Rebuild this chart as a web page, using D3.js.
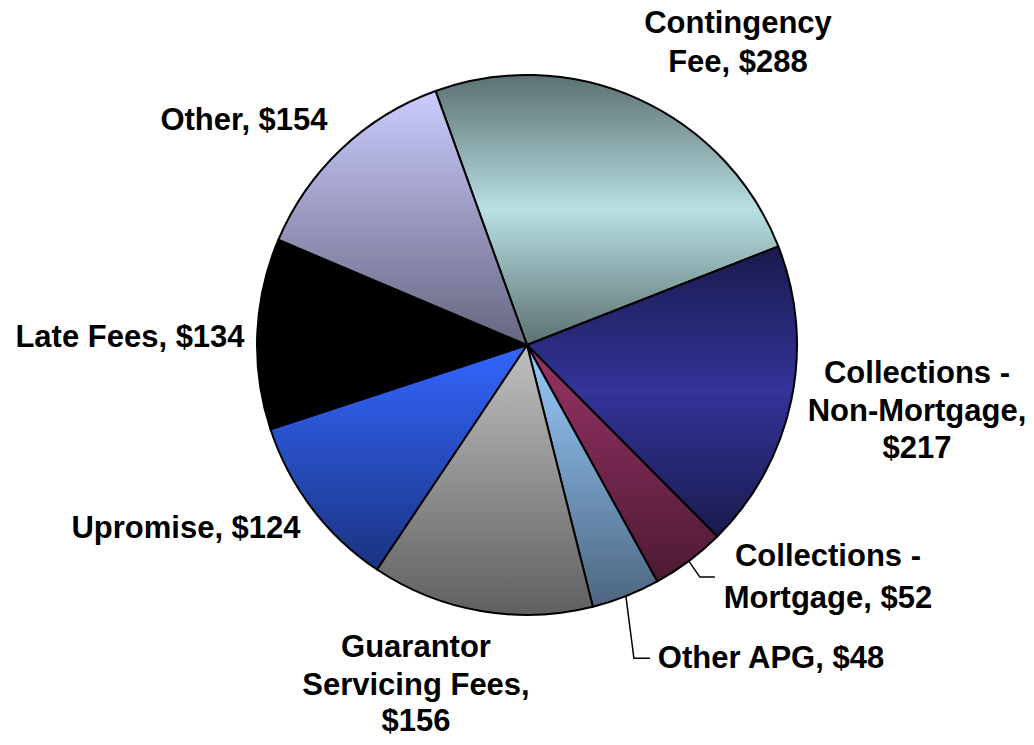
<!DOCTYPE html>
<html>
<head>
<meta charset="utf-8">
<script src="https://cdn.jsdelivr.net/npm/d3@7"></script>
<style>
  html, body { margin: 0; padding: 0; background: #fff; }
  svg { display: block; }
  .label { font-family: "Liberation Sans", Arial, sans-serif; font-weight: bold; font-size: 31px; fill: #000; }
</style>
</head>
<body>
<svg></svg>
<script>
// Revenue pie, slices clockwise from the top

const categories = [
  "Contingency Fee",
  "Collections - Non-Mortgage",
  "Collections - Mortgage",
  "Other APG",
  "Guarantor Servicing Fees",
  "Upromise",
  "Late Fees",
  "Other",
];
const values = [288, 217, 52, 48, 156, 124, 134, 154];
const labelLines = [
  ["Contingency", "Fee, $288"],
  ["Collections -", "Non-Mortgage,", "$217"],
  ["Collections -", "Mortgage, $52"],
  ["Other APG, $48"],
  ["Guarantor", "Servicing Fees,", "$156"],
  ["Upromise, $124"],
  ["Late Fees, $134"],
  ["Other, $154"],
];
const sliceColors = ["#b8e0e2", "#333399", "#993366", "#99ccff", "#c0c0c0", "#3366ff", "#000000", "#ccccff"];
const reflected = [true, true, false, false, false, false, false, false];

// label placement (x centre, baselines) and leader elbows
const labelLayout = [
  { x: 738, y: [33, 72] },
  { x: 917, y: [383, 421, 458] },
  { x: 828, y: [566, 608], leader: { dx: 11, dy: 16, len: 15 } },
  { x: 771, y: [668], leader: { dx: 8, dy: 62, len: 16 } },
  { x: 416, y: [657, 695, 731] },
  { x: 186, y: [538] },
  { x: 130, y: [347] },
  { x: 244, y: [130] },
];

const width = 1034;
const height = 745;
const cx = 527;
const cy = 345;
const radius = 270;
const startDeg = -19.8;

const svg = d3.select("svg").attr("width", width).attr("height", height);

const pie = d3
  .pie()
  .sort(null)
  .value((d) => d)
  .startAngle((startDeg * Math.PI) / 180)
  .endAngle(((startDeg + 360) * Math.PI) / 180);

const arc = d3.arc().innerRadius(0).outerRadius(radius);

const arcs = pie(values);

// one vertical gradient per slice
const defs = svg.append("defs");
sliceColors.forEach((c, i) => {
  const dark = d3.interpolateRgb(c, "#000")(0.5);
  const stops = reflected[i]
    ? [[0, dark], [0.5, c], [1, dark]]
    : [[0, c], [1, dark]];
  const g = defs
    .append("linearGradient")
    .attr("id", "grad" + i)
    .attr("x1", 0)
    .attr("y1", 0)
    .attr("x2", 0)
    .attr("y2", 1);
  stops.forEach((s) => {
    g.append("stop").attr("offset", s[0]).attr("stop-color", s[1]);
  });
});

const chart = svg.append("g").attr("transform", `translate(${cx},${cy})`);

chart
  .selectAll("path.slice")
  .data(arcs)
  .enter()
  .append("path")
  .attr("class", "slice")
  .attr("d", arc)
  .attr("fill", (d, i) => `url(#grad${i})`)
  .attr("stroke", "#000")
  .attr("stroke-width", 2)
  .attr("stroke-linejoin", "round");

// leader lines for the two thin slices
arcs.forEach((d, i) => {
  const lay = labelLayout[i];
  if (!lay.leader) return;
  const mid = (d.startAngle + d.endAngle) / 2;
  const x0 = cx + radius * Math.sin(mid);
  const y0 = cy - radius * Math.cos(mid);
  const x1 = x0 + lay.leader.dx;
  const y1 = y0 + lay.leader.dy;
  svg
    .append("polyline")
    .attr("points", `${x0},${y0} ${x1},${y1} ${x1 + lay.leader.len},${y1}`)
    .attr("fill", "none")
    .attr("stroke", "#000")
    .attr("stroke-width", 1.5);
});

// labels
labelLines.forEach((lines, i) => {
  const lay = labelLayout[i];
  const t = svg
    .append("text")
    .attr("class", "label")
    .attr("text-anchor", "middle");
  lines.forEach((line, j) => {
    t.append("tspan").attr("x", lay.x).attr("y", lay.y[j]).text(line);
  });
});
</script>
</body>
</html>
